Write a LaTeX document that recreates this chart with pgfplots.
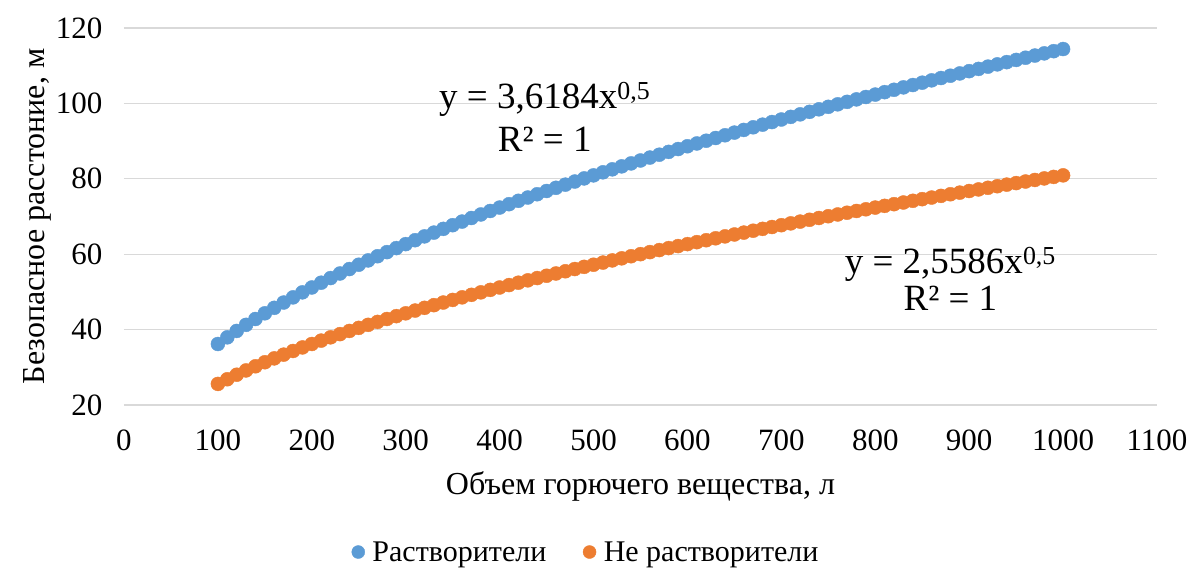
\documentclass[border=0pt]{standalone}
\usepackage{pgfplots}
\pgfplotsset{compat=1.18}
\usepackage{fontspec}
\setmainfont{Liberation Serif}
\definecolor{cblue}{HTML}{5B9BD5}
\definecolor{corange}{HTML}{ED7D31}
\definecolor{cgrid}{HTML}{D9D9D9}
\begin{document}
\begin{tikzpicture}[x=1pt,y=1pt]
\useasboundingbox (0,0) rectangle (1192,569);
\begin{axis}[
  at={(124pt,164pt)}, anchor=south west,
  scale only axis, width=1033pt, height=377pt,
  xmin=0, xmax=1100, ymin=20, ymax=120,
  xtick={0,100,...,1100}, ytick={20,40,...,120},
  ymajorgrids, grid style={cgrid, line width=1.3pt},
  axis line style={draw=none}, major tick length=0pt,
  /pgf/number format/assume math mode=true,
  /pgf/number format/set thousands separator={},
  tick label style={font=\fontsize{31}{36}\selectfont, text=black},
  xticklabel style={yshift=-21pt},
  yticklabel style={xshift=-18pt},
  xlabel={Объем горючего вещества, л},
  ylabel={Безопасное расстоние, м},
  label style={font=\fontsize{32}{37}\selectfont},
  xlabel style={yshift=-14pt},
  ylabel style={yshift=-2pt},
  legend columns=2,
  legend style={draw=none, at={(0.447,-0.39)}, anchor=center, font=\fontsize{30}{35}\selectfont, /tikz/every even column/.append style={column sep=34pt}},
  legend image code/.code={\fill[#1] (0pt,0pt) circle (6.5pt); \path (-7pt,0pt) (12pt,0pt);},
  clip=false,
]
\addplot[only marks, mark=*, mark size=7pt, color=cblue, mark options={draw=cblue, fill=cblue}] coordinates {
(100,36.18)(110,37.95)(120,39.64)(130,41.26)(140,42.81)(150,44.32)(160,45.77)(170,47.18)(180,48.55)(190,49.88)
(200,51.17)(210,52.44)(220,53.67)(230,54.88)(240,56.06)(250,57.21)(260,58.35)(270,59.46)(280,60.55)(290,61.62)
(300,62.67)(310,63.71)(320,64.73)(330,65.73)(340,66.72)(350,67.69)(360,68.65)(370,69.60)(380,70.54)(390,71.46)
(400,72.37)(410,73.27)(420,74.16)(430,75.03)(440,75.90)(450,76.76)(460,77.61)(470,78.45)(480,79.28)(490,80.10)
(500,80.91)(510,81.72)(520,82.51)(530,83.30)(540,84.08)(550,84.86)(560,85.63)(570,86.39)(580,87.14)(590,87.89)
(600,88.63)(610,89.37)(620,90.10)(630,90.82)(640,91.54)(650,92.25)(660,92.96)(670,93.66)(680,94.36)(690,95.05)
(700,95.73)(710,96.42)(720,97.09)(730,97.76)(740,98.43)(750,99.09)(760,99.75)(770,100.41)(780,101.06)(790,101.70)
(800,102.34)(810,102.98)(820,103.61)(830,104.25)(840,104.87)(850,105.49)(860,106.11)(870,106.73)(880,107.34)(890,107.95)
(900,108.55)(910,109.15)(920,109.75)(930,110.35)(940,110.94)(950,111.53)(960,112.11)(970,112.69)(980,113.27)(990,113.85)
(1000,114.42)
};
\addlegendentry{Растворители}
\addplot[only marks, mark=*, mark size=7pt, color=corange, mark options={draw=corange, fill=corange}] coordinates {
(100,25.59)(110,26.83)(120,28.03)(130,29.17)(140,30.27)(150,31.34)(160,32.36)(170,33.36)(180,34.33)(190,35.27)
(200,36.18)(210,37.08)(220,37.95)(230,38.80)(240,39.64)(250,40.46)(260,41.26)(270,42.04)(280,42.81)(290,43.57)
(300,44.32)(310,45.05)(320,45.77)(330,46.48)(340,47.18)(350,47.87)(360,48.55)(370,49.22)(380,49.88)(390,50.53)
(400,51.17)(410,51.81)(420,52.44)(430,53.06)(440,53.67)(450,54.28)(460,54.88)(470,55.47)(480,56.06)(490,56.64)
(500,57.21)(510,57.78)(520,58.35)(530,58.90)(540,59.46)(550,60.00)(560,60.55)(570,61.09)(580,61.62)(590,62.15)
(600,62.67)(610,63.19)(620,63.71)(630,64.22)(640,64.73)(650,65.23)(660,65.73)(670,66.23)(680,66.72)(690,67.21)
(700,67.69)(710,68.18)(720,68.65)(730,69.13)(740,69.60)(750,70.07)(760,70.54)(770,71.00)(780,71.46)(790,71.91)
(800,72.37)(810,72.82)(820,73.27)(830,73.71)(840,74.16)(850,74.60)(860,75.03)(870,75.47)(880,75.90)(890,76.33)
(900,76.76)(910,77.18)(920,77.61)(930,78.03)(940,78.45)(950,78.86)(960,79.28)(970,79.69)(980,80.10)(990,80.50)
(1000,80.91)
};
\addlegendentry{Не растворители}
\node[font=\fontsize{37}{42}\selectfont] at (axis cs:448,101.0) {y = 3,6184x\textsuperscript{0,5}};
\node[font=\fontsize{37}{42}\selectfont] at (axis cs:448,90.6) {R² = 1};
\node[font=\fontsize{37}{42}\selectfont] at (axis cs:880,57.4) {y = 2,5586x\textsuperscript{0,5}};
\node[font=\fontsize{37}{42}\selectfont] at (axis cs:880,48.2) {R² = 1};
\end{axis}
\end{tikzpicture}
\end{document}
